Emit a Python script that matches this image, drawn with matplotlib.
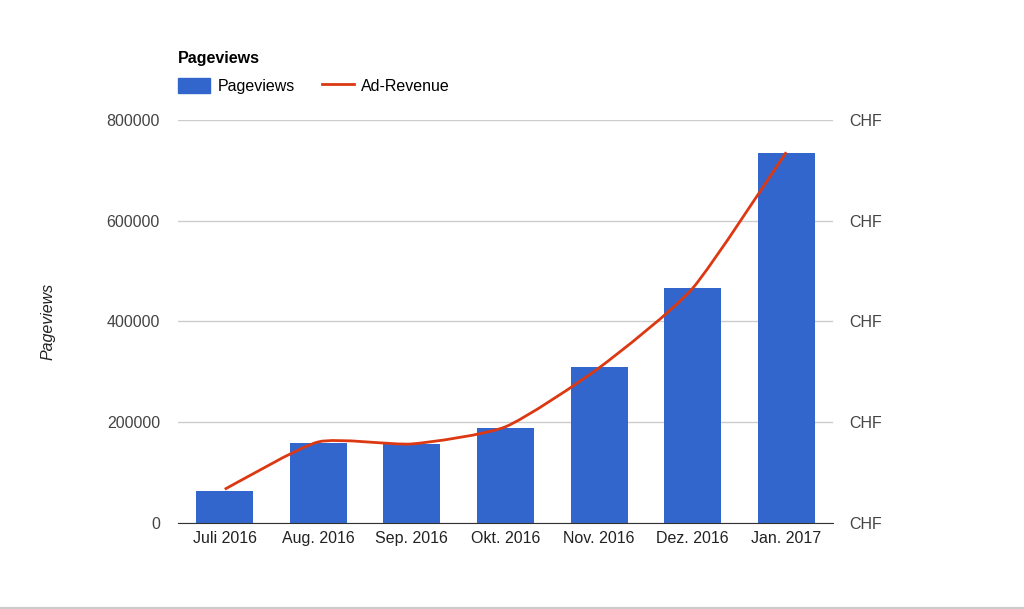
import matplotlib.pyplot as plt
import numpy as np
from matplotlib.path import Path
from matplotlib.patches import PathPatch, Patch
from matplotlib.lines import Line2D
from matplotlib.ticker import FuncFormatter

plt.rcParams['font.family'] = ['Liberation Sans', 'DejaVu Sans']

# data
months = ["Juli 2016", "Aug. 2016", "Sep. 2016", "Okt. 2016", "Nov. 2016", "Dez. 2016", "Jan. 2017"]
pageviews = [64000, 158000, 156000, 188000, 310000, 466000, 735000]
revenue = [67, 161, 157, 191, 308, 466, 736]   # CHF, right axis has no numbers
left_ticks = [0, 200000, 400000, 600000, 800000]
right_ticks = [0, 200, 400, 600, 800]

blue = "#3366cc"
red = "#dc3912"

fig = plt.figure(figsize=(10.24, 6.09), dpi=100)
ax = fig.add_axes([0.1738, 0.1412, 0.6397, 0.6618])
x = np.arange(len(months))
ax.bar(x, pageviews, width=0.61, color=blue, zorder=2)
ax.set_xlim(-0.5, len(months) - 0.5)
ax.set_ylim(0, 800000)
ax.set_yticks(left_ticks)
ax.set_xticks(x)
ax.set_xticklabels(months, fontsize=11.5, color="#222222")
ax.tick_params(axis='y', length=0, pad=13, labelsize=11.5, labelcolor="#444444")
ax.tick_params(axis='x', length=0, pad=6)
ax.grid(axis='y', color="#cccccc", linewidth=1, zorder=0)
for s in ["top", "right", "left"]:
    ax.spines[s].set_visible(False)
ax.spines["bottom"].set_color("#333333")
ax.spines["bottom"].set_zorder(3)
ax.set_ylabel("Pageviews", fontsize=11.5, style="italic", color="#222222", labelpad=37)

# right axis for Ad-Revenue
ax2 = ax.twinx()
ax2.set_ylim(0, 800)
ax2.set_yticks(right_ticks)
ax2.yaxis.set_major_formatter(FuncFormatter(lambda v, p: "CHF"))
ax2.tick_params(axis='y', length=0, pad=11.5, labelsize=11.5, labelcolor="#444444")
for s in ax2.spines.values():
    s.set_visible(False)

# smoothed line through the points (cardinal spline as cubic Bezier)
pts = np.column_stack([x, revenue]).astype(float)
k = 1 / 10.0
verts = [pts[0]]
codes = [Path.MOVETO]
for i in range(len(pts) - 1):
    p0 = pts[max(i - 1, 0)]
    p1 = pts[i]
    p2 = pts[i + 1]
    p3 = pts[min(i + 2, len(pts) - 1)]
    c1 = p1 + (p2 - p0) * k
    c2 = p2 - (p3 - p1) * k
    verts += [c1, c2, p2]
    codes += [Path.CURVE4] * 3
ax2.add_patch(PathPatch(Path(verts, codes), facecolor="none", edgecolor=red, linewidth=2, zorder=4))

# title and legend
fig.text(178 / 1024, 1 - 59 / 609, "Pageviews", fontsize=11.5, fontweight="bold", va="center", ha="left")
handles = [Patch(facecolor=blue, edgecolor=blue), Line2D([], [], color=red, linewidth=2)]
fig.legend(handles, ["Pageviews", "Ad-Revenue"], loc="center left",
           bbox_to_anchor=(164 / 1024, 1 - 86 / 609), ncol=2, frameon=False,
           fontsize=11.5, handlelength=2.0, handleheight=1.1, columnspacing=1.7, handletextpad=0.45)

# thin gray rule at the very bottom
fig.add_artist(Line2D([0, 1], [0.0015, 0.0015], color="#cccccc", linewidth=1.5, transform=fig.transFigure))

fig.savefig("out.png", dpi=100)
